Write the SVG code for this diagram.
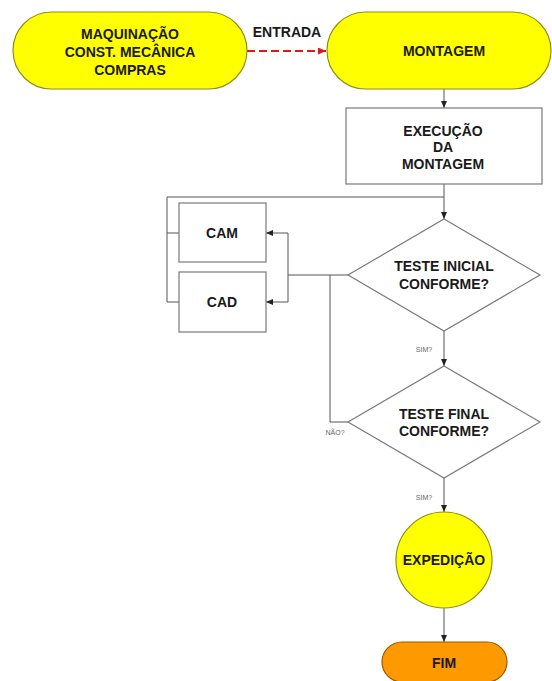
<svg xmlns="http://www.w3.org/2000/svg" width="552" height="681" viewBox="0 0 552 681">
  <defs>
    <marker id="arrow" markerUnits="userSpaceOnUse" markerWidth="7" markerHeight="6" refX="7" refY="3" orient="auto">
      <path d="M0,0 L7,3 L0,6 z" fill="#222"/>
    </marker>
    <marker id="arrow-red" markerUnits="userSpaceOnUse" markerWidth="8" markerHeight="7" refX="8" refY="3.5" orient="auto">
      <path d="M0,0 L8,3.5 L0,7 z" fill="#e01818"/>
    </marker>
    <style>
      .pill { fill: #ffff00; stroke: #8f8f1a; stroke-width: 1.2; }
      .end { fill: #ff9900; stroke: #9a5a00; stroke-width: 1.2; }
      .box { fill: #ffffff; stroke: #7a7a7a; stroke-width: 1.2; }
      .lbl { font-family: "Liberation Sans", Arial, sans-serif; font-weight: bold; font-size: 14px; fill: #1a1a1a; text-anchor: middle; }
      .small { font-family: "Liberation Sans", Arial, sans-serif; font-size: 7px; fill: #666; text-anchor: middle; }
      .wire { fill: none; stroke: #555; stroke-width: 1; }
    </style>
  </defs>
  <rect width="552" height="681" fill="#ffffff"/>

  <!-- connectors -->
  <g id="connectors">
    <line x1="247" y1="51" x2="326" y2="51" stroke="#e01818" stroke-width="2" stroke-dasharray="8,4" marker-end="url(#arrow-red)"/>
    <line class="wire" x1="444" y1="89" x2="444" y2="108" marker-end="url(#arrow)"/>
    <line class="wire" x1="444" y1="184" x2="444" y2="219" marker-end="url(#arrow)"/>
    <polyline class="wire" points="444,197 167,197 167,302 179,302"/>
    <line class="wire" x1="167" y1="233" x2="179" y2="233"/>
    <line class="wire" x1="348" y1="275" x2="288" y2="275"/>
    <line class="wire" x1="288" y1="233" x2="288" y2="302"/>
    <line class="wire" x1="288" y1="233" x2="266" y2="233" marker-end="url(#arrow)"/>
    <line class="wire" x1="288" y1="302" x2="266" y2="302" marker-end="url(#arrow)"/>
    <polyline class="wire" points="348,422 330,422 330,275"/>
    <line class="wire" x1="444" y1="331" x2="444" y2="366" marker-end="url(#arrow)"/>
    <line class="wire" x1="444" y1="478" x2="444" y2="512" marker-end="url(#arrow)"/>
    <line class="wire" x1="444" y1="608" x2="444" y2="642" marker-end="url(#arrow)"/>
    <text class="lbl" x="287" y="37">ENTRADA</text>
    <text class="small" x="424" y="352">SIM?</text>
    <text class="small" x="335" y="435">NÃO?</text>
    <text class="small" x="424" y="500">SIM?</text>
  </g>

  <g id="origem">
    <rect class="pill" x="13" y="12" width="234" height="77" rx="38.5" ry="38.5"/>
    <text class="lbl" x="130" y="39">MAQUINAÇÃO</text>
    <text class="lbl" x="130" y="57">CONST. MECÂNICA</text>
    <text class="lbl" x="130" y="75">COMPRAS</text>
  </g>

  <g id="montagem">
    <rect class="pill" x="327" y="12" width="224" height="77" rx="38.5" ry="38.5"/>
    <text class="lbl" x="444" y="56">MONTAGEM</text>
  </g>

  <g id="execucao">
    <rect class="box" x="346" y="108" width="196" height="76"/>
    <text class="lbl" x="443" y="136">EXECUÇÃO</text>
    <text class="lbl" x="443" y="152">DA</text>
    <text class="lbl" x="443" y="169">MONTAGEM</text>
  </g>

  <g id="cam">
    <rect class="box" x="179" y="203" width="87" height="59"/>
    <text class="lbl" x="222" y="238">CAM</text>
  </g>

  <g id="cad">
    <rect class="box" x="179" y="272" width="87" height="60"/>
    <text class="lbl" x="222" y="307">CAD</text>
  </g>

  <g id="teste-inicial">
    <polygon class="box" points="444,219 540,275 444,331 348,275"/>
    <text class="lbl" x="444" y="271">TESTE INICIAL</text>
    <text class="lbl" x="444" y="289">CONFORME?</text>
  </g>

  <g id="teste-final">
    <polygon class="box" points="444,366 540,422 444,478 348,422"/>
    <text class="lbl" x="444" y="419">TESTE FINAL</text>
    <text class="lbl" x="444" y="436">CONFORME?</text>
  </g>

  <g id="expedicao">
    <circle class="pill" cx="444" cy="560" r="48"/>
    <text class="lbl" x="444" y="565">EXPEDIÇÃO</text>
  </g>

  <g id="fim">
    <rect class="end" x="382" y="642" width="125" height="40" rx="20" ry="20"/>
    <text class="lbl" x="444" y="668">FIM</text>
  </g>
</svg>
